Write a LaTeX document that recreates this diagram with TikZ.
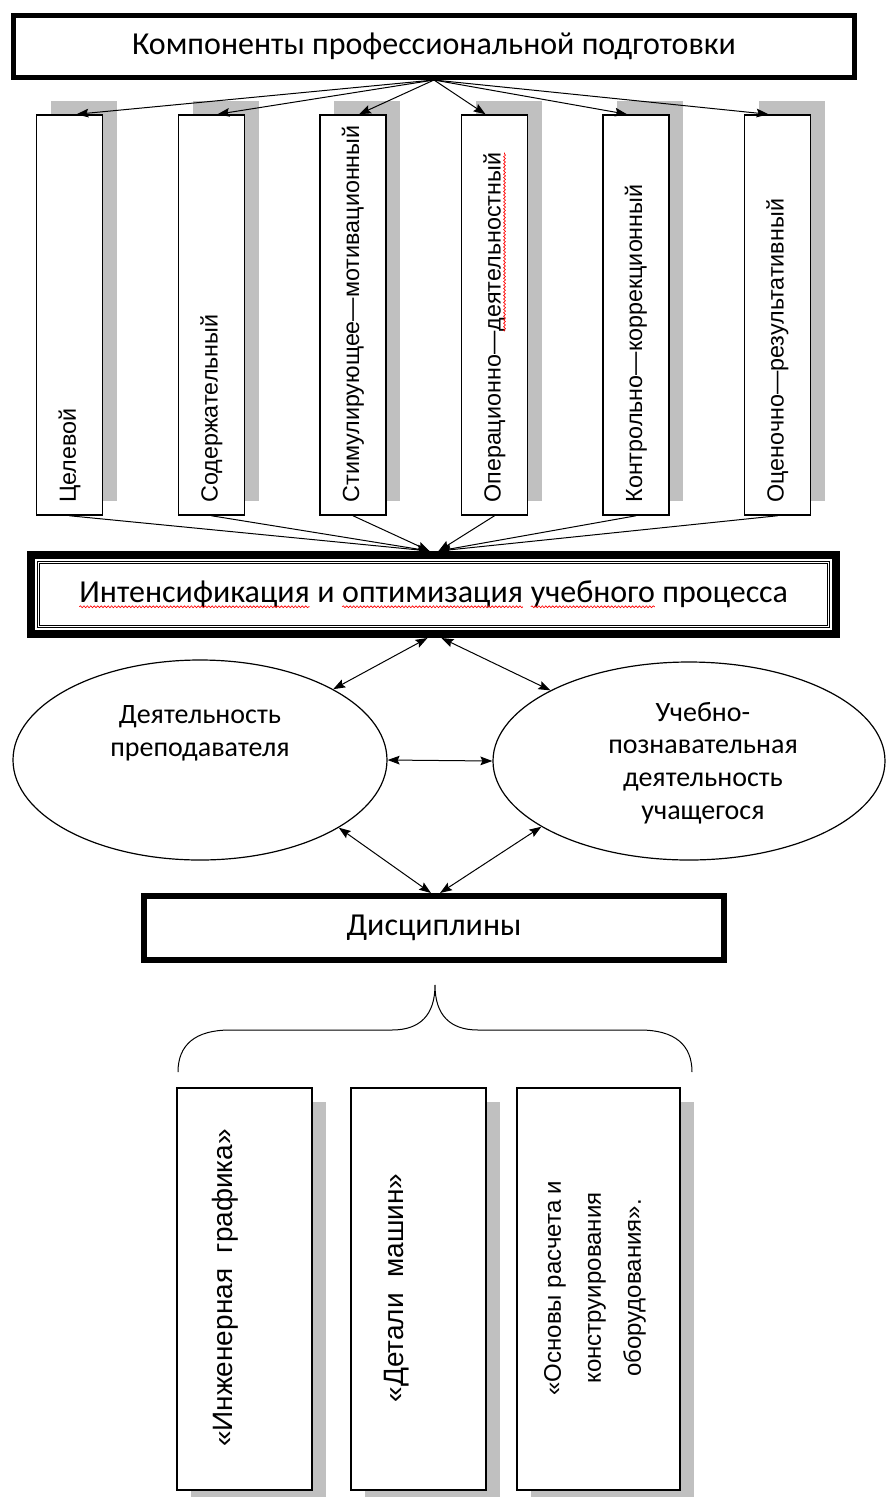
\documentclass[tikz,border=0pt]{standalone}
\usepackage{fontspec}
\setmainfont{Liberation Sans}
\newfontfamily\calibri{Carlito}
\usepackage{xcolor}
\usetikzlibrary{calc,fit,positioning,shapes,shadows,arrows.meta,decorations.pathmorphing}
\definecolor{ShadowGray}{RGB}{192,192,192}
\newdimen\px \px=0.75pt
\newcommand\spellwave[1]{\tikz[baseline=(sw.base)]{\node[shape=rectangle, draw=none, fill=none,
	      minimum width=0pt, minimum height=0pt, inner sep=0pt, outer sep=0pt] (sw) {#1};
	\draw[red, line width=0.5pt, decorate, decoration={snake, amplitude=0.7pt, segment length=2.6pt}]
	      ([yshift=-3pt]sw.base west) -- ([yshift=-3pt]sw.base east);}}

\begin{document}
\begin{tikzpicture}[x=0.75pt, y=-0.75pt, line width=1\px,
       >={Stealth[length=9pt,width=6.5pt,inset=1.5pt]},
       every node/.style={inner sep=0pt},
       headbox/.style 2 args = {rectangle, draw, line width=#1, minimum width=#2,
                                font=\calibri\fontsize{24}{28}\selectfont},
       compbox/.style = {rectangle, draw, line width=1.5\px, fill=white,
                         minimum width=66\px, minimum height=400\px,
                         drop shadow={shadow xshift=14\px, shadow yshift=14\px,
                                      fill=ShadowGray, opacity=1}},
       comptext/.style = {rotate=90, anchor=west, font=\fontsize{17.5}{21}\selectfont},
       activity/.style 2 args = {ellipse, draw, line width=1.2\px,
                                 minimum width=#1, minimum height=#2},
       acttext/.style = {font=\calibri\fontsize{21}{24.5}\selectfont, align=center},
       discbox/.style = {rectangle, draw, line width=1.5\px, fill=white,
                         minimum width=#1, minimum height=402\px,
                         drop shadow={shadow xshift=14\px, shadow yshift=-14\px,
                                      fill=ShadowGray, opacity=1}},
       disctext/.style = {rotate=90, font=\fontsize{21}{26}\selectfont, align=center}]
	\useasboundingbox (0,0) rectangle (886,1497);

	%% Components
	\node [headbox={5\px}{841\px}, minimum height=62\px] (comp) at (434,46.5)
	      {Компоненты профессиональной подготовки};
	\node [compbox] (c1) at (69.5,315) {};
	\node [compbox] (c2) at (211.5,315) {};
	\node [compbox] (c3) at (353,315) {};
	\node [compbox] (c4) at (494.5,315) {};
	\node [compbox] (c5) at (636,315) {};
	\node [compbox] (c6) at (777.5,315) {};
	\node [comptext] (t1) at (69.5,503) {Целевой};
	\node [comptext] (t2) at (211.5,503) {Содержательный};
	\node [comptext] (t3) at (353,503) {Стимулирующее—мотивационный};
	\node [comptext] (t4) at (494.5,503) {Операционно—\spellwave{деятельностный}};
	\node [comptext] (t5) at (636,503) {Контрольно—коррекционный};
	\node [comptext] (t6) at (777.5,503) {Оценочно—результативный};

	%% Process
	\node [headbox={1\px}{790\px}, minimum height=64\px, double, double distance=1.5\px,
	       outer sep=0pt] (proc) at (433.5,594.5)
	      {\spellwave{Интенсификация} и \spellwave{оптимизация} \spellwave{учебного} процесса};
	\node [draw, line width=8\px, fit=(proc), inner sep=7.5\px] (procframe) {};

	%% Activities
	\node [activity={374\px}{200\px},
	       label={[acttext, yshift=27\px]center:{Деятельность\\преподавателя}}] (teacher) at (200,760) {};
	\node [activity={392\px}{198\px},
	       label={[acttext, xshift=14\px, yshift=-2\px]center:{Учебно-\\познавательная\\деятельность\\учащегося}}] (student) at (689,761) {};

	%% Disciplines
	\node [headbox={6\px}{580\px}, minimum height=64\px] (disc) at (434,928) {Дисциплины};
	\node [discbox=135\px] (d1) at (244.5,1289) {};
	\node [discbox=135\px] (d2) at (418.5,1289) {};
	\node [discbox=163\px] (d3) at (598.5,1289) {};
	\node [disctext] (d1t) at (225,1288) {«Инженерная~ графика»};
	\node [disctext] (d2t) at (397,1288) {«Детали~ машин»};
	\node [disctext, font=\fontsize{18}{30}\selectfont] (d3t) at (595,1288)
	      {«Основы расчета и\\конструирования\\оборудования».};

	%% Simple paths
	\draw[->] (comp.south) -- ([xshift=7\px]c1.north);
	\draw[->] (comp.south) -- ([xshift=6\px]c2.north);
	\draw[->] (comp.south) -- ([xshift=6\px]c3.north);
	\draw[->] (comp.south) -- ([xshift=-9\px]c4.north);
	\draw[->] (comp.south) -- ([xshift=-9\px]c5.north);
	\draw[->] (comp.south) -- ([xshift=-9\px]c6.north);
	\draw[->] (c1.south) -- ([xshift=-4\px]procframe.north);
	\draw[->] (c2.south) -- ([xshift=-4\px]procframe.north);
	\draw[->] (c3.south) -- ([xshift=-4\px]procframe.north);
	\draw[->] (c4.south) -- ([xshift=5\px]procframe.north);
	\draw[->] (c5.south) -- ([xshift=5\px]procframe.north);
	\draw[->] (c6.south) -- ([xshift=5\px]procframe.north);
	\draw[<->] ([xshift=-6\px]procframe.south) -- (teacher.28);
	\draw[<->] ([xshift=8\px]procframe.south) -- (student.153);
	\draw[<->] (teacher.east) -- (student.west);
	\draw[<->] (teacher.-26) -- ([xshift=-3\px]disc.north);
	\draw[<->] (student.-156) -- ([xshift=6\px]disc.north);

	%% Brace
	\draw (178,1072) .. controls (178,1045) and (195,1030) .. (230,1030) -- (392,1030)
	      .. controls (420,1030) and (435,1015) .. (435,985)
	      .. controls (435,1015) and (450,1030) .. (478,1030) -- (640,1030)
	      .. controls (675,1030) and (692,1045) .. (692,1072);
\end{tikzpicture}
\end{document}
